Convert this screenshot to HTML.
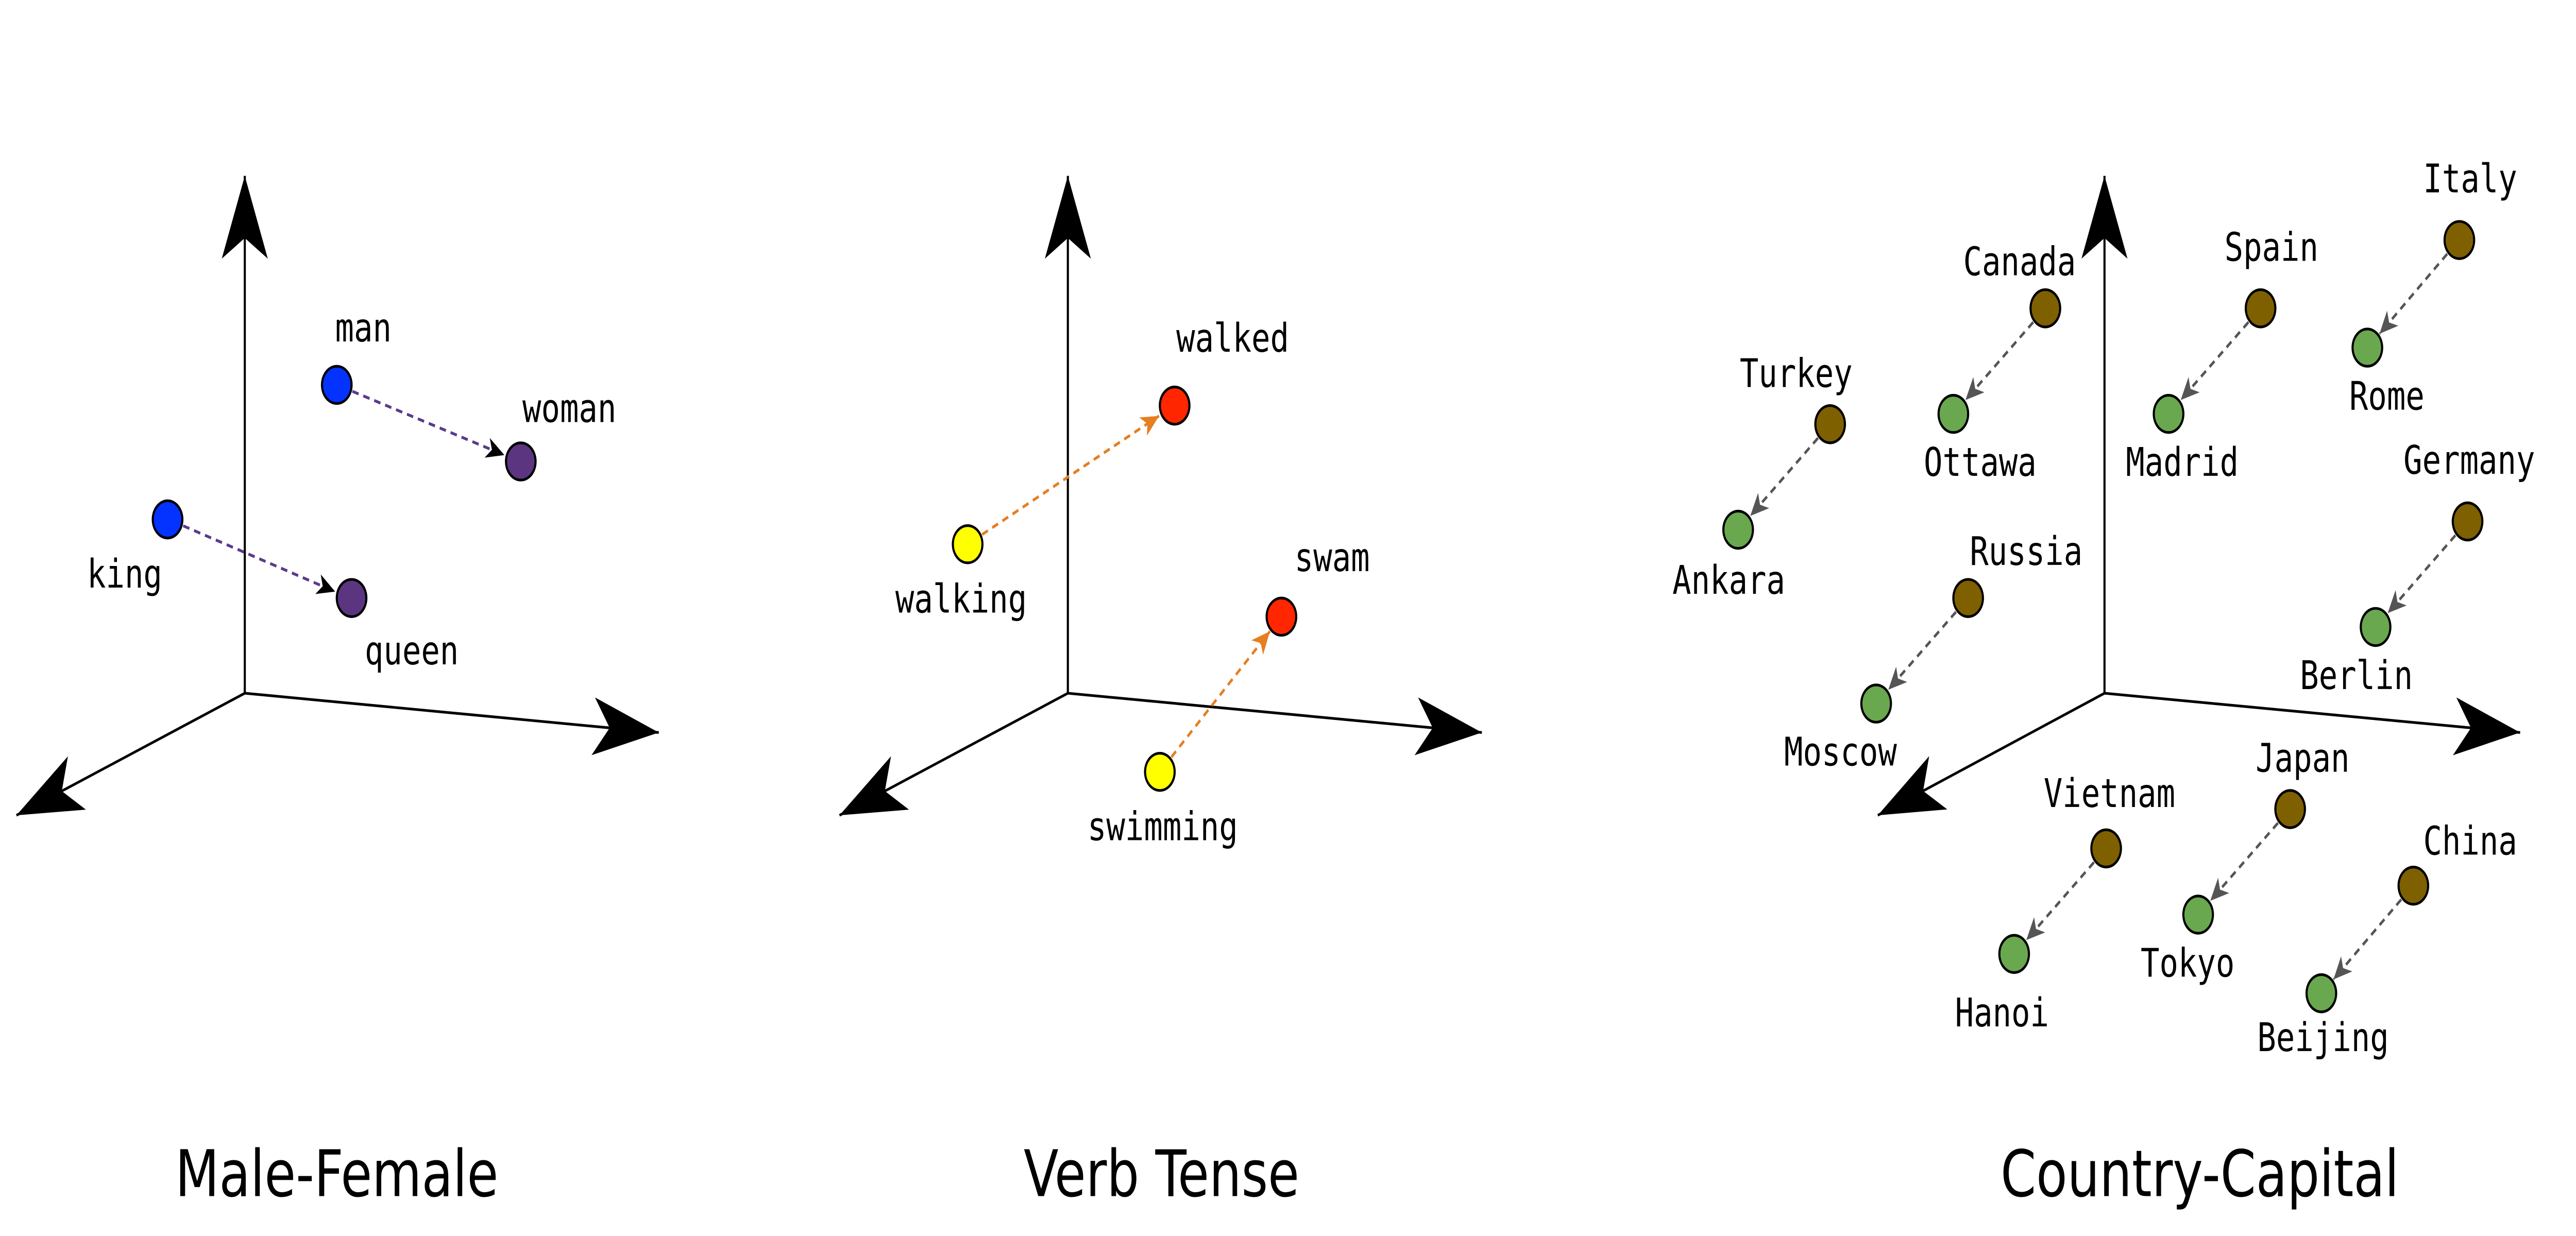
<!DOCTYPE html>
<html><head><meta charset="utf-8"><style>html,body{margin:0;padding:0;background:#fff;overflow:hidden;width:100%;height:100%}svg{display:block;width:100vw;height:100vh}</style></head>
<body>
<svg viewBox="0 0 1568 597.3" preserveAspectRatio="none" xmlns="http://www.w3.org/2000/svg">
<defs>
<marker id="ax" markerUnits="userSpaceOnUse" markerWidth="60" markerHeight="40" refX="0" refY="0" viewBox="-42 -20 44 40" orient="auto">
<path d="M0,0 L-40,-14 L-30,0 L-40,14 Z" fill="#000"/>
</marker>
<marker id="ap" markerUnits="userSpaceOnUse" markerWidth="14" markerHeight="12" refX="0" refY="0" viewBox="-12 -6 13 12" orient="auto"><path d="M0,0 L-11,-5 L-8,0 L-11,5 Z" fill="#000"/></marker>
<marker id="ao" markerUnits="userSpaceOnUse" markerWidth="14" markerHeight="12" refX="0" refY="0" viewBox="-12 -6 13 12" orient="auto"><path d="M0,0 L-11,-5 L-8,0 L-11,5 Z" fill="#e67e22"/></marker>
<marker id="ag" markerUnits="userSpaceOnUse" markerWidth="14" markerHeight="12" refX="0" refY="0" viewBox="-12 -6 13 12" orient="auto"><path d="M0,0 L-11,-5 L-8,0 L-11,5 Z" fill="#555"/></marker>
</defs>
<g stroke="#000" stroke-width="1.3" fill="none">
<line x1="149" y1="335" x2="149" y2="85" marker-end="url(#ax)"/>
<line x1="149" y1="335" x2="401" y2="354" marker-end="url(#ax)"/>
<line x1="149" y1="335" x2="10" y2="394" marker-end="url(#ax)"/>
<line x1="650" y1="335" x2="650" y2="85" marker-end="url(#ax)"/>
<line x1="650" y1="335" x2="902" y2="354" marker-end="url(#ax)"/>
<line x1="650" y1="335" x2="511" y2="394" marker-end="url(#ax)"/>
<line x1="1281" y1="335" x2="1281" y2="85" marker-end="url(#ax)"/>
<line x1="1281" y1="335" x2="1534" y2="354" marker-end="url(#ax)"/>
<line x1="1281" y1="335" x2="1143" y2="394" marker-end="url(#ax)"/>
</g>
<g stroke-width="1.4" stroke-dasharray="4,3" fill="none">
<line x1="214.5" y1="189.1" x2="307" y2="219.9" stroke="#5a3a8a" marker-end="url(#ap)"/>
<line x1="111.5" y1="254.1" x2="204" y2="285.9" stroke="#5a3a8a" marker-end="url(#ap)"/>
<line x1="597.8" y1="258.3" x2="705.5" y2="201" stroke="#e67e22" marker-end="url(#ao)"/>
<line x1="713" y1="365.9" x2="773" y2="305.1" stroke="#e67e22" marker-end="url(#ao)"/>
<g stroke="#555">
<line x1="1237.6" y1="155.7" x2="1196.4" y2="193.3" marker-end="url(#ag)"/>
<line x1="1368.6" y1="155.7" x2="1327.4" y2="193.3" marker-end="url(#ag)"/>
<line x1="1489.6" y1="122.7" x2="1448.4" y2="161.3" marker-end="url(#ag)"/>
<line x1="1106.6" y1="211.7" x2="1065.4" y2="249.3" marker-end="url(#ag)"/>
<line x1="1190.6" y1="295.7" x2="1149.4" y2="333.3" marker-end="url(#ag)"/>
<line x1="1494.6" y1="258.7" x2="1453.4" y2="296.3" marker-end="url(#ag)"/>
<line x1="1274.6" y1="416.7" x2="1233.4" y2="454.3" marker-end="url(#ag)"/>
<line x1="1386.6" y1="397.7" x2="1345.4" y2="435.3" marker-end="url(#ag)"/>
<line x1="1461.6" y1="434.7" x2="1420.4" y2="473.3" marker-end="url(#ag)"/>
</g>
</g>
<g stroke="#000" stroke-width="1.3">
<circle cx="205" cy="186" r="9" fill="#0433ff"/>
<circle cx="102" cy="251" r="9" fill="#0433ff"/>
<circle cx="317" cy="223" r="9" fill="#5b3580"/>
<circle cx="214" cy="289" r="9" fill="#5b3580"/>
<circle cx="589" cy="263" r="9" fill="#ffff00"/>
<circle cx="706" cy="373" r="9" fill="#ffff00"/>
<circle cx="715" cy="196" r="9" fill="#ff2600"/>
<circle cx="780" cy="298" r="9" fill="#ff2600"/>
<g fill="#7f6000">
<circle cx="1245" cy="149" r="9"/><circle cx="1376" cy="149" r="9"/><circle cx="1497" cy="116" r="9"/>
<circle cx="1114" cy="205" r="9"/><circle cx="1198" cy="289" r="9"/><circle cx="1502" cy="252" r="9"/>
<circle cx="1282" cy="410" r="9"/><circle cx="1394" cy="391" r="9"/><circle cx="1469" cy="428" r="9"/>
</g>
<g fill="#6aa84f">
<circle cx="1189" cy="200" r="9"/><circle cx="1320" cy="200" r="9"/><circle cx="1441" cy="168" r="9"/>
<circle cx="1058" cy="256" r="9"/><circle cx="1142" cy="340" r="9"/><circle cx="1446" cy="303" r="9"/>
<circle cx="1226" cy="461" r="9"/><circle cx="1338" cy="442" r="9"/><circle cx="1413" cy="480" r="9"/>
</g>
</g>
<g font-family="'DejaVu Sans Mono','Liberation Mono',monospace" font-size="19" fill="#000">
<text x="204" y="165">man</text>
<text x="318" y="204">woman</text>
<text x="53" y="284">king</text>
<text x="222" y="321">queen</text>
<text x="716" y="170">walked</text>
<text x="545" y="296">walking</text>
<text x="788" y="276">swam</text>
<text x="662" y="406">swimming</text>
<text x="1195" y="133">Canada</text>
<text x="1171" y="230">Ottawa</text>
<text x="1354" y="126">Spain</text>
<text x="1294" y="230">Madrid</text>
<text x="1475" y="93">Italy</text>
<text x="1430" y="198">Rome</text>
<text x="1059" y="187">Turkey</text>
<text x="1018" y="287">Ankara</text>
<text x="1199" y="273">Russia</text>
<text x="1086" y="370">Moscow</text>
<text x="1463" y="229">Germany</text>
<text x="1400" y="333">Berlin</text>
<text x="1244" y="390">Vietnam</text>
<text x="1190" y="496">Hanoi</text>
<text x="1373" y="373">Japan</text>
<text x="1303" y="472">Tokyo</text>
<text x="1475" y="413">China</text>
<text x="1374" y="508">Beijing</text>
</g>
<g font-family="'DejaVu Sans','Liberation Sans',sans-serif" font-size="31" fill="#000" text-anchor="middle">
<text x="205" y="578">Male-Female</text>
<text x="707" y="578">Verb Tense</text>
<text x="1339" y="578">Country-Capital</text>
</g>
</svg>
</body></html>
